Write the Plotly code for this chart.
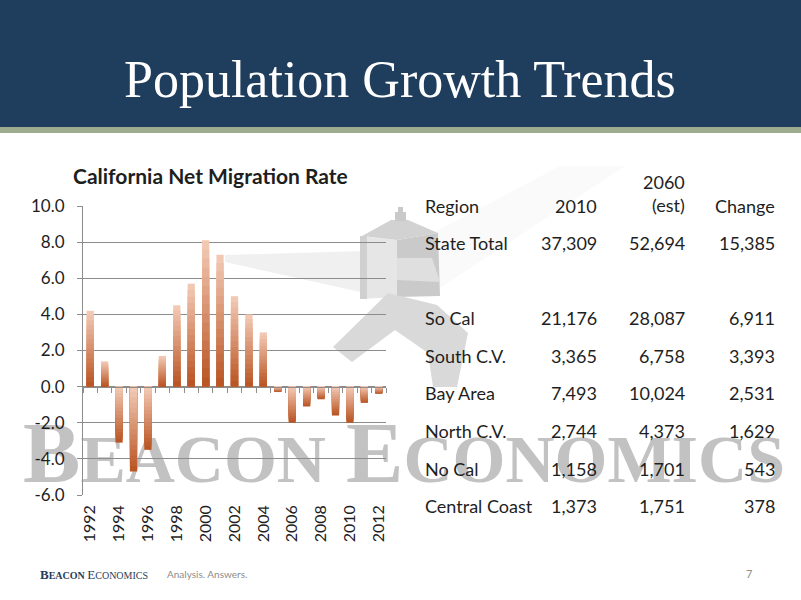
import plotly.graph_objects as go

W, H = 801, 600

# bar chart data
years = [1992, 1993, 1994, 1995, 1996, 1997, 1998, 1999, 2000, 2001, 2002,
         2003, 2004, 2005, 2006, 2007, 2008, 2009, 2010, 2011, 2012]
rates = [4.2, 1.4, -3.1, -4.7, -3.5, 1.7, 4.5, 5.7, 8.1, 7.3, 5.0,
         4.0, 3.0, -0.3, -2.0, -1.1, -0.7, -1.6, -2.0, -0.9, -0.4]
y_ticks = [-6, -4, -2, 0, 2, 4, 6, 8, 10]

# table data
header = ["Region", "2010", "2060<br>(est)", "Change"]
regions = ["State Total", "So Cal", "South C.V.", "Bay Area", "North C.V.", "No Cal", "Central Coast"]
pop_2010 = [37309, 21176, 3365, 7493, 2744, 1158, 1373]
pop_2060 = [52694, 28087, 6758, 10024, 4373, 1701, 1751]
change = [15385, 6911, 3393, 2531, 1629, 543, 378]

NAVY = "#1f3d5c"
GRID = "#8c8c8c"
TXT = "#1e1e1e"
SANS = "Lato"
SERIF = "Liberation Serif"


def px(x, y):
    # pixel position on the page -> paper fraction
    return x / W, 1 - y / H


fig = go.Figure()

# background subplot in page pixels (for the watermark)
fig.add_trace(go.Scatter(
    x=[23, 346], y=[465, 465], mode="text",
    text=["<span style='font-size:86px'>B</span>EACON",
          "<span style='font-size:86px'>E</span>CONOMICS"],
    textposition="middle right",
    textfont=dict(family=SERIF, size=68, color="#c2c2c2", weight="bold"),
    hoverinfo="skip", showlegend=False, xaxis="x", yaxis="y"))

# bars, overlaid from full length down to short to fake the vertical gradient
light = (244, 204, 184)
dark = (184, 82, 32)
NS = 16
n = len(years)
cats = [str(y) for y in years]


def mix(a, b, f):
    return "rgb(%d,%d,%d)" % tuple(round(a[i] + (b[i] - a[i]) * f) for i in range(3))


for k in range(NS):
    frac = (NS - k) / NS
    f = (NS - k - 0.5) / NS  # distance from zero of the visible slice
    cols = [mix(dark, light, f) if v >= 0 else mix(light, dark, f) for v in rates]
    fig.add_trace(go.Bar(
        x=cats, y=[v * frac for v in rates], marker=dict(color=cols, line_width=0),
        xaxis="x2", yaxis="y2", showlegend=False, hoverinfo="skip"))

# dummy trace so the zero-line tick axis gets drawn
fig.add_trace(go.Scatter(x=list(range(n)), y=rates, mode="markers",
                         marker=dict(opacity=0), xaxis="x3", yaxis="y2",
                         showlegend=False, hoverinfo="skip"))

x0, y1 = px(83, 206)
x1, y0 = px(386, 495)
ymin, ymax = -6, 10
zero_pos = y0 + (0 - ymin) / (ymax - ymin) * (y1 - y0)

shapes = [
    dict(type="rect", xref="x", yref="y", x0=0, x1=W, y0=0, y1=127,
         fillcolor=NAVY, line_width=0, layer="below"),
    dict(type="rect", xref="x", yref="y", x0=0, x1=W, y0=127, y1=133,
         fillcolor="#9dab8e", line_width=0, layer="below"),
]


def poly(pts, color):
    path = "M " + " L ".join("%d,%d" % p for p in pts) + " Z"
    return dict(type="path", xref="x", yref="y", path=path, fillcolor=color,
                line_width=0, layer="below")


# lighthouse watermark
shapes += [
    poly([(225, 255), (397, 250), (397, 300), (225, 262)], "rgba(205,205,205,0.3)"),
    poly([(397, 252), (560, 166), (625, 166), (440, 288)], "rgba(220,220,220,0.15)"),
    poly([(360, 236), (397, 240), (397, 297), (360, 299)], "#e6e6e6"),
    poly([(360, 236), (367, 236), (367, 299), (360, 299)], "#d0d0d0"),
    poly([(397, 240), (438, 233), (440, 296), (397, 297)], "#cacaca"),
    poly([(397, 258), (432, 258), (440, 282), (397, 280)], "#dfdfdf"),
    poly([(362, 236), (391, 220), (408, 220), (438, 233), (397, 240)], "#d2d2d2"),
    poly([(395, 212), (406, 212), (406, 221), (395, 221)], "#c9c9c9"),
    poly([(398, 207), (403, 207), (403, 212), (398, 212)], "#c9c9c9"),
    poly([(333, 347), (388, 293), (437, 305), (468, 333), (457, 387),
          (433, 387), (428, 353), (395, 330), (352, 362)], "#d9d9d9"),
]

annotations = []


def note(text, x, y, size, color=TXT, family=SANS, xanchor="center", **kw):
    ax, ay = px(x, y)
    annotations.append(dict(text=text, x=ax, y=ay, xref="paper", yref="paper",
                            showarrow=False, xanchor=xanchor, yanchor="middle",
                            font=dict(family=family, size=size, color=color), **kw))


note("Population Growth Trends", 400, 80, 52, color="white", family=SERIF)
note("<b>California Net Migration Rate</b>", 211, 175, 21)

# table
col_x = [423, 599, 687, 777]
note(header[0], col_x[0], 206, 18, xanchor="left")
note(header[1], col_x[1], 206, 18, xanchor="right")
note(header[2], col_x[2], 194, 18, xanchor="right", align="right")
note(header[3], col_x[3], 206, 18, xanchor="right")
for i, reg in enumerate(regions):
    slot = i + (1 if i > 0 else 0)
    yy = 243 + 37.6 * slot
    note(reg, col_x[0], yy, 18, xanchor="left")
    note(f"{pop_2010[i]:,}", col_x[1], yy, 18, xanchor="right")
    note(f"{pop_2060[i]:,}", col_x[2], yy, 18, xanchor="right")
    note(f"{change[i]:,}", col_x[3], yy, 18, xanchor="right")

# footer
note("<b><span style='font-size:13px'>B</span>EACON</b> <span style='font-size:13px'>E</span>CONOMICS",
     38, 574, 10, color=NAVY, family=SERIF, xanchor="left")
note("Analysis. Answers.", 165, 574, 10, color="#8c8c8c", xanchor="left")
note("7", 749, 573, 11, color="#8c8c8c")

fig.update_layout(
    width=W, height=H, margin=dict(l=0, r=0, t=0, b=0, autoexpand=False),
    paper_bgcolor="white", plot_bgcolor="rgba(0,0,0,0)",
    barmode="overlay", bargap=0.5,
    shapes=shapes, annotations=annotations,
    xaxis=dict(domain=[0, 1], range=[0, W], visible=False, fixedrange=True,
               automargin=False),
    yaxis=dict(domain=[0, 1], range=[H, 0], visible=False, fixedrange=True,
               automargin=False),
    xaxis2=dict(domain=[x0, x1], anchor="y2", type="category", categoryarray=cats,
                range=[-0.5, n - 0.5], tickvals=cats[::2], tickangle=-90,
                showgrid=False, showline=False, ticks="", ticklabelstandoff=6,
                automargin=False,
                tickfont=dict(family=SANS, size=16, color=TXT)),
    xaxis3=dict(overlaying="x2", anchor="free", position=zero_pos,
                range=[-0.5, n - 0.5], tickmode="linear", tick0=-0.5, dtick=1,
                ticks="outside", ticklen=5, tickcolor=GRID, showline=True,
                linecolor=GRID, showticklabels=False, showgrid=False,
                zeroline=False, automargin=False),
    yaxis2=dict(domain=[y0, y1], anchor="x2", range=[ymin, ymax],
                tickvals=y_ticks, ticktext=[f"{v:.1f}" for v in y_ticks],
                showgrid=True, gridcolor=GRID, zeroline=False,
                ticks="outside", ticklen=5, tickcolor=GRID, showline=True,
                linecolor=GRID, ticklabelstandoff=9, automargin=False,
                tickfont=dict(family=SANS, size=17, color=TXT)),
)

fig.write_html("out.html", config={"displayModeBar": False},
               post_script="document.body.style.margin='0';")
